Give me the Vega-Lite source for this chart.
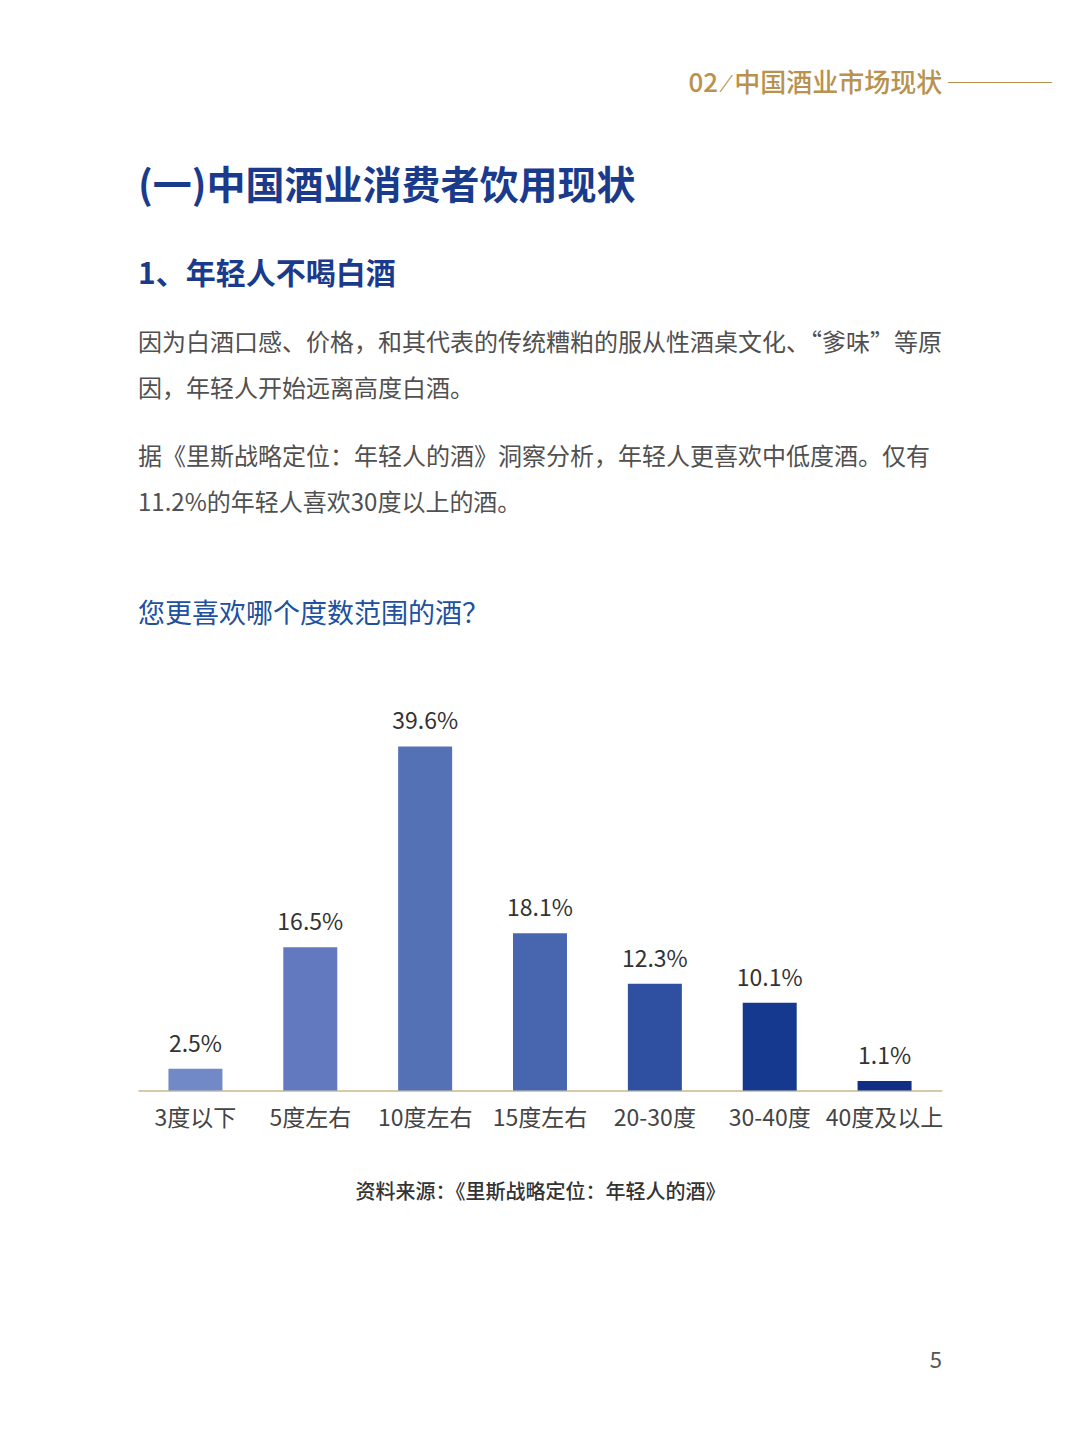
{
  "$schema": "https://vega.github.io/schema/vega-lite/v6.json",
  "background": "white",
  "padding": {"left": 138, "top": 71, "right": 138, "bottom": 30},
  "config": {
    "view": {"stroke": null},
    "font": "Noto Sans CJK SC",
    "title": {"font": "Noto Sans CJK SC", "anchor": "start", "offset": 0}
  },
  "spacing": 0,
  "vconcat": [
    {
      "width": 914,
      "height": 67,
      "title": {"text": "02 ⁄ 中国酒业市场现状 ────", "anchor": "end", "fontSize": 26, "fontWeight": 500, "color": "#B8924E"},
      "data": {"values": [{}]},
      "mark": {"type": "text"},
      "encoding": {}
    },
    {
      "width": 804,
      "height": 38,
      "title": {
        "text": "(一)中国酒业消费者饮用现状",
        "fontSize": 39,
        "fontWeight": "bold",
        "color": "#1A3B8C",
        "subtitle": "1、年轻人不喝白酒",
        "subtitleFontSize": 30,
        "subtitleFontWeight": "bold",
        "subtitleColor": "#1A3B8C",
        "subtitleFont": "Noto Sans CJK SC",
        "subtitlePadding": 53
      },
      "data": {"values": [{}]},
      "mark": {"type": "text"},
      "encoding": {}
    },
    {
      "width": 804,
      "height": 81,
      "title": {
        "text": ["因为白酒口感、价格，和其代表的传统糟粕的服从性酒桌文化、“爹味”等原", "因，年轻人开始远离高度白酒。"],
        "fontSize": 24,
        "fontWeight": "normal",
        "color": "#505050",
        "lineHeight": 46,
        "subtitle": ["据《里斯战略定位：年轻人的酒》洞察分析，年轻人更喜欢中低度酒。仅有", "11.2%的年轻人喜欢30度以上的酒。"],
        "subtitleFontSize": 24,
        "subtitleColor": "#505050",
        "subtitleFont": "Noto Sans CJK SC",
        "subtitleLineHeight": 46,
        "subtitlePadding": 44
      },
      "data": {"values": [{}]},
      "mark": {"type": "text"},
      "encoding": {}
    },
    {
      "width": 804,
      "height": 347.5,
      "title": {"text": "您更喜欢哪个度数范围的酒？", "fontSize": 27, "fontWeight": "normal", "color": "#2050A0", "offset": 82},
      "data": {
        "values": [
          {"category": "3度以下", "share": 0.025},
          {"category": "5度左右", "share": 0.165},
          {"category": "10度左右", "share": 0.396},
          {"category": "15度左右", "share": 0.181},
          {"category": "20-30度", "share": 0.123},
          {"category": "30-40度", "share": 0.101},
          {"category": "40度及以上", "share": 0.011}
        ]
      },
      "encoding": {
        "x": {
          "field": "category",
          "type": "nominal",
          "sort": null,
          "scale": {"paddingInner": 0.53, "paddingOuter": 0.265},
          "axis": {
            "title": "资料来源：《里斯战略定位：年轻人的酒》",
            "titleFontSize": 20,
            "titleFontWeight": 500,
            "titleColor": "#333333",
            "titlePadding": 52,
            "labelAngle": 0,
            "labelFontSize": 23,
            "labelColor": "#444444",
            "labelPadding": 17,
            "ticks": false,
            "domainColor": "#C9B98C",
            "domainWidth": 1.5
          }
        },
        "y": {
          "field": "share",
          "type": "quantitative",
          "scale": {"domain": [0, 0.4]},
          "axis": null
        }
      },
      "layer": [
        {
          "mark": {"type": "bar"},
          "encoding": {
            "color": {
              "field": "category",
              "type": "nominal",
              "sort": null,
              "scale": {
                "domain": ["3度以下", "5度左右", "10度左右", "15度左右", "20-30度", "30-40度", "40度及以上"],
                "range": ["#7189C6", "#6279BF", "#5571B5", "#4866B0", "#2F50A0", "#15398F", "#0F2E84"]
              },
              "legend": null
            }
          }
        },
        {
          "mark": {"type": "text", "baseline": "bottom", "dy": -12, "fontSize": 23, "color": "#333333"},
          "encoding": {
            "text": {"field": "share", "type": "quantitative", "format": ".1%"}
          }
        }
      ]
    },
    {
      "width": 804,
      "height": 144,
      "title": {"text": "5", "orient": "bottom", "anchor": "end", "fontSize": 22, "fontWeight": "normal", "color": "#555555"},
      "data": {"values": [{}]},
      "mark": {"type": "text"},
      "encoding": {}
    }
  ]
}
